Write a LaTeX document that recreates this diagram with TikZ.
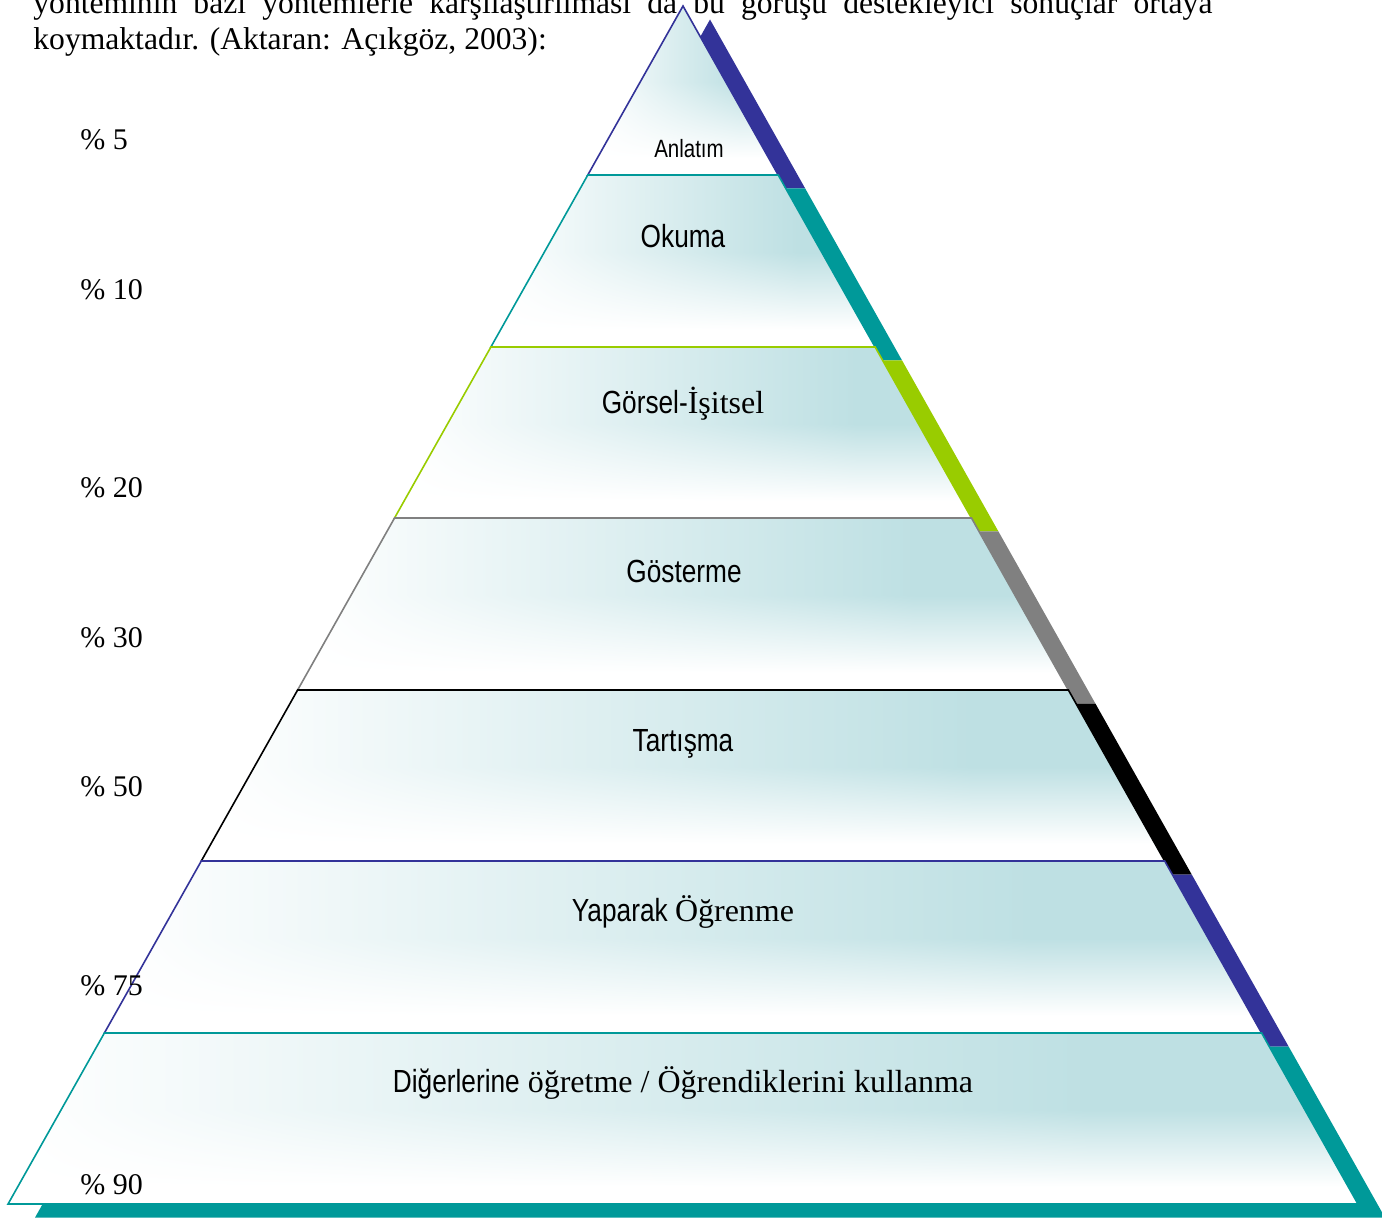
\documentclass[tikz,border=0pt]{standalone}
\usepackage{fontspec}
\setmainfont{Liberation Serif}
\newfontfamily\arialf[FakeStretch=0.82]{Liberation Sans}
\usetikzlibrary{calc}
\definecolor{pblue}{HTML}{333399}
\definecolor{pteal}{HTML}{009999}
\definecolor{pgreen}{HTML}{99CC00}
\definecolor{pgray}{HTML}{808080}
\definecolor{pblack}{HTML}{000000}
\pgfdeclarefunctionalshading{tiershade}{\pgfpointorigin}{\pgfpoint{100bp}{100bp}}{}{
25 sub 50 div 0.1 sub 0.45 div
dup 1 gt {pop 1} if dup 0 lt {pop 0} if
exch
25 sub 50 div 0.8 div
dup 1 gt {pop 1} if dup 0 lt {pop 0} if
mul
dup 0.255 mul 1 exch sub
exch dup 0.122 mul 1 exch sub
exch 0.11 mul 1 exch sub
}
\newcommand\srf[1]{{\rmfamily\fontsize{16}{18}\selectfont #1}}
\tikzset{
  paratext/.style={inner sep=0pt, anchor=base west, font=\fontsize{15.8}{19}\selectfont},
  pcttext/.style={inner sep=0pt, anchor=base west, font=\fontsize{15}{18}\selectfont},
  tierlabel/.style={inner sep=0pt, anchor=base, font=\arialf\fontsize{16}{18}\selectfont},
  tieredge/.style={line width=0.8pt, line join=miter},
}
\begin{document}
\begin{tikzpicture}[x=0.5pt, y=-0.5pt]
\useasboundingbox (0,0) rectangle (1382,1219);
\clip (0,0) rectangle (1382,1219);
% paragraph text
\node[paratext] (line1) at (33,14) {\hbox to 589.5pt{yönteminin\hfill bazı\hfill yöntemlerle\hfill karşılaştırılması\hfill da\hfill bu\hfill görüşü\hfill destekleyici\hfill sonuçlar\hfill ortaya}};
\node[paratext] (line2) at (33,50) {koymaktadır. (Aktaran: Açıkgöz, 2003):};
% coordinates
\foreach \i/\yy in {0/6,1/175,2/347,3/518,4/690,5/861,6/1033,7/1204}{
  \coordinate (L\i) at ({683-0.5634*(\yy-6)},\yy);
  \coordinate (R\i) at ({683+0.5634*(\yy-6)},\yy);
  \coordinate (SL\i) at ({710-0.5634*(\yy-6)},{\yy+13.5});
  \coordinate (SR\i) at ({710+0.5634*(\yy-6)},{\yy+13.5});
}
% shadows
\foreach \i/\j/\c in {1/0/pblue,2/1/pteal,3/2/pgreen,4/3/pgray,5/4/pblack,6/5/pblue,7/6/pteal}{
  \fill[\c] (SL\j) -- (SR\j) -- (SR\i) -- (SL\i) -- cycle;
}
% tiers
\foreach \i/\j/\c in {1/0/pblue,2/1/pteal,3/2/pgreen,4/3/pgray,5/4/pblack,6/5/pblue,7/6/pteal}{
  \shade[shading=tiershade, draw=\c, tieredge] (L\j) -- (R\j) -- (R\i) -- (L\i) -- cycle;
}
% tier labels
\node[tierlabel, font=\arialf\fontsize{12.5}{14}\selectfont] (t1) at (689,158) {Anlatım};
\node[tierlabel] (t2) at (683,248) {Okuma};
\node[tierlabel] (t3) at (683,414) {Görsel-\srf{İşitsel}};
\node[tierlabel] (t4) at (684,582) {Gösterme};
\node[tierlabel] (t5) at (683,751) {Tartışma};
\node[tierlabel] (t6) at (683,921) {Yaparak \srf{Öğrenme}};
\node[tierlabel] (t7) at (683,1092) {Diğerlerine\srf{ öğretme / Öğrendiklerini kullanma}};
% percentage labels
\node[pcttext] (p5) at (80,150) {\%~5};
\node[pcttext] (p10) at (80,300) {\%~10};
\node[pcttext] (p20) at (80,498) {\%~20};
\node[pcttext] (p30) at (80,647) {\%~30};
\node[pcttext] (p50) at (80,796) {\%~50};
\node[pcttext] (p75) at (80,995) {\%~75};
\node[pcttext] (p90) at (80,1194) {\%~90};
\end{tikzpicture}
\end{document}
